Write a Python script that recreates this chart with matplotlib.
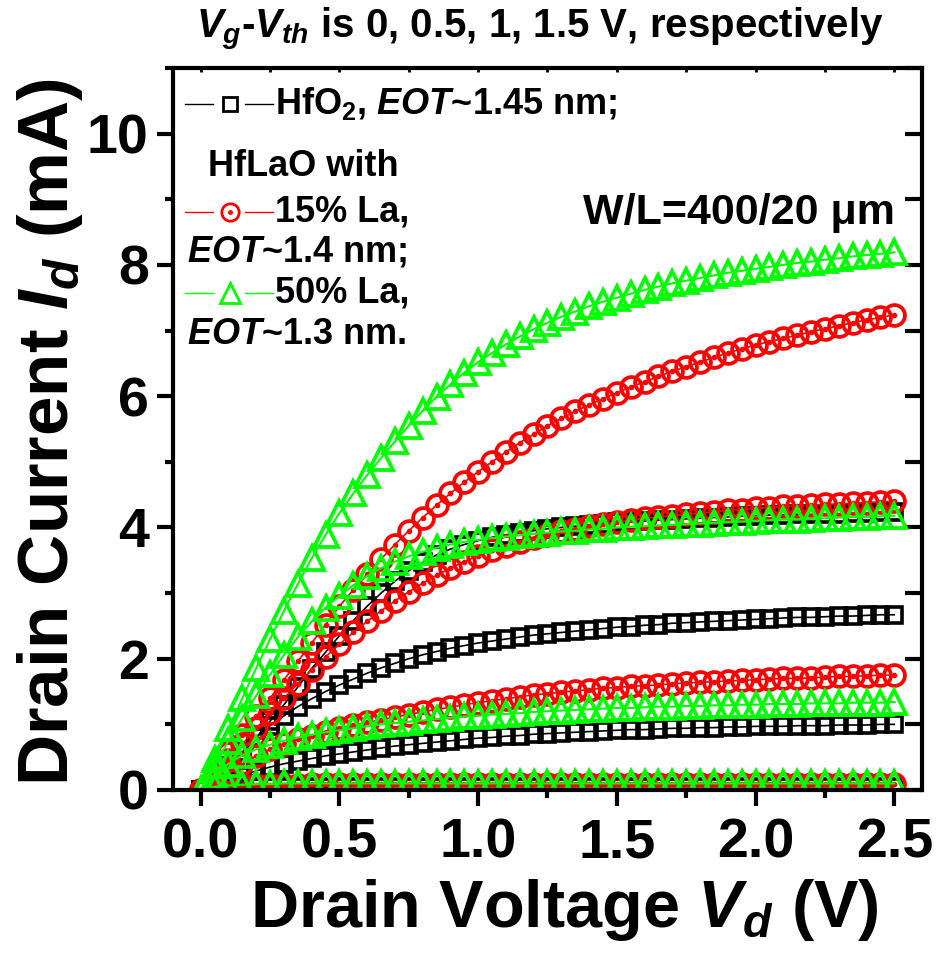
import numpy as np
import matplotlib
matplotlib.use("Agg")
import matplotlib.pyplot as plt

plt.rcParams['font.family'] = ['Liberation Sans', 'DejaVu Sans']
plt.rcParams['font.weight'] = 'bold'
plt.rcParams['mathtext.fontset'] = 'custom'
plt.rcParams['mathtext.rm'] = 'Liberation Sans:bold'
plt.rcParams['mathtext.bf'] = 'Liberation Sans:bold'
plt.rcParams['mathtext.it'] = 'Liberation Sans:italic:bold'

# drain voltage sweep (V), 0.05 V steps
vd = np.linspace(0, 2.5, 51)

# drain current (mA); Vg-Vth = 0, 0.5, 1, 1.5 V
hfo2_00 = [0, 0.02, 0.03, 0.03, 0.04, 0.04, 0.04, 0.04, 0.04, 0.04,
           0.05, 0.05, 0.05, 0.05, 0.05, 0.05, 0.05, 0.05, 0.05, 0.05,
           0.05, 0.05, 0.05, 0.05, 0.05, 0.05, 0.05, 0.05, 0.05, 0.05,
           0.05, 0.05, 0.05, 0.05, 0.05, 0.05, 0.05, 0.05, 0.05, 0.05,
           0.05, 0.05, 0.05, 0.05, 0.05, 0.05, 0.05, 0.05, 0.05, 0.05, 0.05]
hfo2_05 = [0, 0.08, 0.15, 0.22, 0.29, 0.35, 0.40, 0.44, 0.48, 0.52,
           0.55, 0.58, 0.61, 0.64, 0.67, 0.69, 0.71, 0.73, 0.75, 0.77,
           0.79, 0.80, 0.82, 0.83, 0.85, 0.86, 0.87, 0.88, 0.89, 0.90,
           0.91, 0.92, 0.92, 0.93, 0.94, 0.94, 0.95, 0.95, 0.96, 0.96,
           0.97, 0.97, 0.97, 0.98, 0.98, 0.98, 0.99, 0.99, 0.99, 1.00, 1.00]
hfo2_10 = [0, 0.17, 0.36, 0.58, 0.80, 0.98, 1.13, 1.27, 1.39, 1.50,
           1.60, 1.69, 1.78, 1.86, 1.93, 2.00, 2.06, 2.11, 2.16, 2.20,
           2.24, 2.27, 2.30, 2.33, 2.36, 2.38, 2.40, 2.42, 2.44, 2.46,
           2.48, 2.49, 2.51, 2.52, 2.54, 2.55, 2.56, 2.57, 2.58, 2.59,
           2.60, 2.61, 2.62, 2.63, 2.63, 2.64, 2.65, 2.65, 2.66, 2.67, 2.67]
hfo2_15 = [0, 0.17, 0.35, 0.57, 0.80, 1.05, 1.30, 1.57, 1.85, 2.10,
           2.35, 2.58, 2.80, 3.00, 3.18, 3.34, 3.47, 3.58, 3.67, 3.74,
           3.80, 3.85, 3.89, 3.92, 3.95, 3.98, 4.00, 4.02, 4.04, 4.06,
           4.08, 4.09, 4.10, 4.11, 4.12, 4.13, 4.14, 4.15, 4.16, 4.17,
           4.18, 4.19, 4.19, 4.20, 4.20, 4.21, 4.21, 4.22, 4.22, 4.23, 4.23]

la15_00 = [0, 0.04, 0.06, 0.07, 0.08, 0.08, 0.08, 0.08, 0.09, 0.09,
           0.09, 0.09, 0.09, 0.09, 0.09, 0.09, 0.09, 0.09, 0.09, 0.09,
           0.09, 0.09, 0.09, 0.09, 0.09, 0.09, 0.09, 0.09, 0.09, 0.09,
           0.09, 0.09, 0.09, 0.09, 0.09, 0.09, 0.09, 0.09, 0.09, 0.09,
           0.09, 0.09, 0.09, 0.09, 0.09, 0.09, 0.09, 0.09, 0.09, 0.09, 0.09]
la15_05 = [0, 0.14, 0.28, 0.41, 0.52, 0.62, 0.70, 0.77, 0.83, 0.89,
           0.94, 0.99, 1.03, 1.07, 1.11, 1.15, 1.19, 1.23, 1.26, 1.30,
           1.33, 1.36, 1.39, 1.42, 1.45, 1.47, 1.49, 1.51, 1.53, 1.55,
           1.56, 1.58, 1.59, 1.60, 1.62, 1.63, 1.64, 1.65, 1.66, 1.67,
           1.68, 1.69, 1.70, 1.70, 1.71, 1.72, 1.73, 1.73, 1.74, 1.75, 1.75]
la15_10 = [0, 0.23, 0.46, 0.70, 0.94, 1.17, 1.40, 1.62, 1.83, 2.03,
           2.22, 2.40, 2.57, 2.73, 2.88, 3.02, 3.15, 3.27, 3.38, 3.48,
           3.57, 3.65, 3.72, 3.78, 3.84, 3.89, 3.94, 3.98, 4.02, 4.05,
           4.08, 4.11, 4.14, 4.16, 4.18, 4.20, 4.22, 4.24, 4.26, 4.27,
           4.29, 4.30, 4.32, 4.33, 4.34, 4.35, 4.36, 4.37, 4.38, 4.39, 4.40]
la15_15 = [0, 0.28, 0.56, 0.84, 1.12, 1.40, 1.68, 1.96, 2.24, 2.52,
           2.80, 3.05, 3.29, 3.52, 3.74, 3.95, 4.15, 4.34, 4.52, 4.69,
           4.85, 5.00, 5.15, 5.29, 5.42, 5.55, 5.66, 5.77, 5.87, 5.96,
           6.05, 6.14, 6.22, 6.30, 6.38, 6.45, 6.52, 6.59, 6.66, 6.72,
           6.78, 6.83, 6.88, 6.93, 6.98, 7.03, 7.07, 7.12, 7.16, 7.20, 7.24]

la50_00 = [0, 0.05, 0.07, 0.08, 0.09, 0.09, 0.10, 0.10, 0.10, 0.10,
           0.10, 0.10, 0.10, 0.10, 0.10, 0.10, 0.10, 0.10, 0.10, 0.10,
           0.10, 0.10, 0.10, 0.10, 0.10, 0.10, 0.10, 0.10, 0.10, 0.10,
           0.10, 0.10, 0.10, 0.10, 0.10, 0.10, 0.10, 0.10, 0.10, 0.10,
           0.10, 0.10, 0.10, 0.10, 0.10, 0.10, 0.10, 0.10, 0.10, 0.10, 0.10]
la50_05 = [0, 0.22, 0.40, 0.53, 0.62, 0.69, 0.75, 0.80, 0.84, 0.88,
           0.91, 0.94, 0.97, 1.00, 1.02, 1.04, 1.06, 1.08, 1.10, 1.12,
           1.13, 1.15, 1.16, 1.17, 1.19, 1.20, 1.21, 1.22, 1.23, 1.24,
           1.25, 1.25, 1.26, 1.27, 1.27, 1.28, 1.28, 1.29, 1.29, 1.30,
           1.30, 1.31, 1.31, 1.31, 1.32, 1.32, 1.32, 1.33, 1.33, 1.33, 1.34]
la50_10 = [0, 0.38, 0.75, 1.10, 1.44, 1.76, 2.06, 2.33, 2.57, 2.78,
           2.96, 3.12, 3.26, 3.38, 3.48, 3.56, 3.63, 3.69, 3.74, 3.78,
           3.81, 3.84, 3.86, 3.88, 3.90, 3.92, 3.94, 3.95, 3.97, 3.98,
           4.00, 4.01, 4.02, 4.03, 4.04, 4.05, 4.06, 4.07, 4.08, 4.09,
           4.10, 4.11, 4.12, 4.12, 4.13, 4.14, 4.15, 4.16, 4.16, 4.17, 4.18]
la50_15 = [0, 0.47, 0.94, 1.40, 1.86, 2.30, 2.73, 3.14, 3.53, 3.89,
           4.22, 4.52, 4.80, 5.06, 5.31, 5.55, 5.78, 5.99, 6.18, 6.36,
           6.52, 6.66, 6.79, 6.91, 7.02, 7.12, 7.21, 7.29, 7.37, 7.44,
           7.50, 7.56, 7.62, 7.67, 7.72, 7.76, 7.80, 7.84, 7.88, 7.91,
           7.94, 7.97, 8.00, 8.03, 8.05, 8.08, 8.10, 8.13, 8.15, 8.17, 8.19]

BLACK = '#000000'
RED = '#FF0000'
GREEN = '#00FF00'

W, H = 937, 958
fig = plt.figure(figsize=(W / 100, H / 100), dpi=100)
ax = fig.add_axes([173 / W, 1 - 790 / H, (922 - 173) / W, (790 - 68) / H])


def px(x, y):
    return x / W, 1 - y / H


# black squares
for cur in [hfo2_00, hfo2_05, hfo2_10, hfo2_15]:
    ax.plot(vd, cur, '-', color=BLACK, lw=1.2, marker='s', ms=12,
            mfc='none', mec=BLACK, mew=2.6)
# red dotted circles
for cur in [la15_00, la15_05, la15_10, la15_15]:
    ax.plot(vd, cur, '-', color=RED, lw=1.2, marker='o', ms=15,
            mfc='none', mec=RED, mew=2.7)
    ax.plot(vd, cur, ls='none', marker='o', ms=3, color=RED)
# green triangles
for cur in [la50_00, la50_05, la50_10, la50_15]:
    ax.plot(vd, cur, '-', color=GREEN, lw=1.5, marker='^', ms=17,
            mfc='none', mec=GREEN, mew=2.7)

ax.set_xlim(-0.1, 2.6)
ax.set_ylim(0, 11)
ax.set_xticks([0, 0.5, 1.0, 1.5, 2.0, 2.5])
ax.set_xticks(np.arange(0.25, 2.6, 0.5), minor=True)
ax.set_yticks([0, 2, 4, 6, 8, 10])
ax.set_yticks([1, 3, 5, 7, 9, 11], minor=True)
ax.set_xticklabels(['0.0', '0.5', '1.0', '1.5', '2.0', '2.5'])

for s in ax.spines.values():
    s.set_linewidth(3)
ax.tick_params(axis='both', which='major', direction='out', length=11.5,
               width=3, labelsize=40)
ax.tick_params(axis='both', which='minor', direction='out', length=6, width=3)
ax.tick_params(axis='x', pad=8)
ax.tick_params(axis='y', pad=6)

# right and top ticks point inward
ax_r = ax.secondary_yaxis('right')
ax_r.set_yticks([0, 2, 4, 6, 8, 10])
ax_r.set_yticks([1, 3, 5, 7, 9, 11], minor=True)
ax_r.tick_params(which='both', direction='in', length=12, width=3,
                 labelright=False)
ax_t = ax.secondary_xaxis('top')
ax_t.set_xticks([0, 0.5, 1.0, 1.5, 2.0, 2.5])
ax_t.set_xticks(np.arange(0.25, 2.6, 0.5), minor=True)
ax_t.tick_params(which='both', direction='in', length=3, width=2,
                 labeltop=False)

# axis labels and title
fig.text(*px(564, 927), 'Drain Voltage $V_d$ (V)', ha='center',
         va='baseline', fontsize=48, weight='bold')
fig.text(*px(50, 432), 'Drain Current $I_d$ (mA)', ha='center',
         va='center', rotation=90, fontsize=51, weight='bold')
fig.text(*px(540, 38), '$V_g$-$V_{th}$ is 0, 0.5, 1, 1.5 V, respectively',
         ha='center', va='baseline', fontsize=29, weight='bold')
fig.text(*px(739, 213), 'W/L=400/20 \u03bcm', ha='center', va='center',
         fontsize=31, weight='bold')

# hand-built legend in the Origin style
leg_rows = [(104, BLACK, 's', 10, 'HfO$_2$, $EOT$~1.45 nm;'),
            (212, RED, 'o', 12.5, '15% La,'),
            (293, GREEN, '^', 14, '50% La,')]
for y, col, mk, ms, lab in leg_rows:
    x0, yy = px(185, y)
    x1, _ = px(213, y)
    x2, _ = px(245, y)
    x3, _ = px(273, y)
    xm, _ = px(230, y)
    fig.add_artist(plt.Line2D([x0, x1], [yy, yy], color=col, lw=1,
                              transform=fig.transFigure))
    fig.add_artist(plt.Line2D([x2, x3], [yy, yy], color=col, lw=1,
                              transform=fig.transFigure))
    fig.add_artist(plt.Line2D([xm], [yy], marker=mk, ms=ms, mfc='none',
                              mec=col, mew=2, transform=fig.transFigure))
    if mk == 'o':
        fig.add_artist(plt.Line2D([xm], [yy], marker='o', ms=2.5, color=col,
                                  transform=fig.transFigure))
    fig.text(*px(275, y), lab, ha='left', va='center', fontsize=26,
             weight='bold')
fig.text(*px(208, 166), 'HfLaO with', ha='left', va='center', fontsize=26,
         weight='bold')
fig.text(*px(187, 252), '$EOT$~1.4 nm;', ha='left', va='center',
         fontsize=26, weight='bold')
fig.text(*px(187, 334), '$EOT$~1.3 nm.', ha='left', va='center',
         fontsize=26, weight='bold')

fig.savefig('out.png', dpi=100)
